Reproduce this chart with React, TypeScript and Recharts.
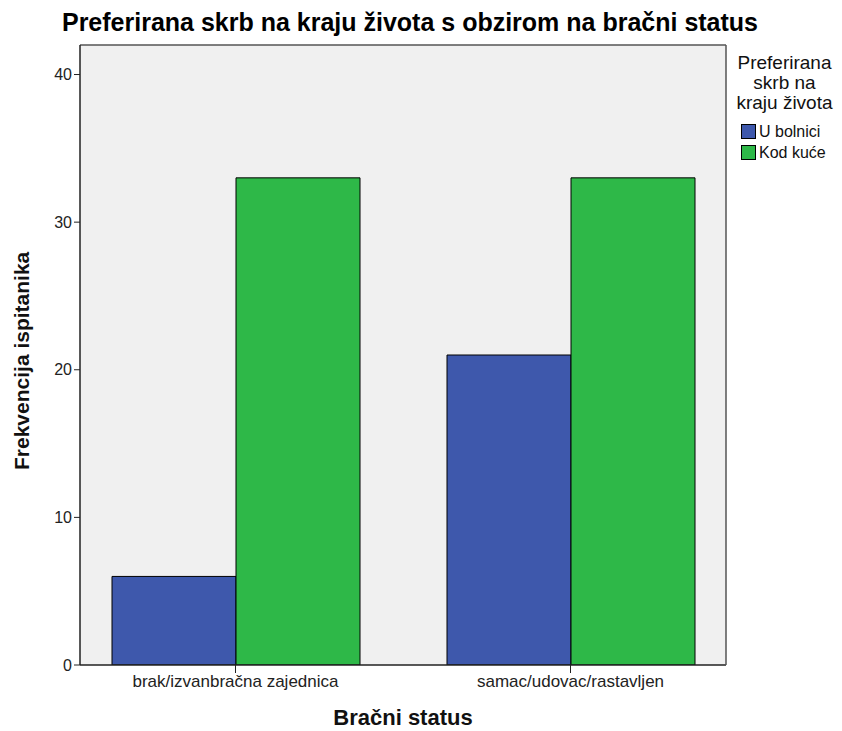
import React from "react";
import { BarChart, Bar, XAxis, YAxis, Legend, CartesianGrid } from "recharts";

const categories = ["brak/izvanbračna zajednica", "samac/udovac/rastavljen"];
const uBolnici = [6, 21];
const kodKuce = [33, 33];
const yTicks = [0, 10, 20, 30, 40];
const seriesNames = ["U bolnici", "Kod kuće"];
const seriesColors = ["#3E58AC", "#2EB848"];

const data = categories.map((c, i) => ({ cat: c, a: uBolnici[i], b: kodKuce[i] }));

const FONT = "Arial, 'Liberation Sans', sans-serif";

const LegendContent = () => (
  <div style={{ fontFamily: FONT, color: "#111" }}>
    <div style={{ textAlign: "center", fontSize: 19, lineHeight: "20px", width: 115 }}>
      Preferirana<br />skrb na<br />kraju života
    </div>
    <div style={{ marginTop: 8, marginLeft: 14 }}>
      {seriesNames.map((n, i) => (
        <div key={n} style={{ display: "flex", alignItems: "center", height: 21, fontSize: 16 }}>
          <span style={{ width: 13, height: 13, background: seriesColors[i], border: "1px solid #000", marginRight: 3, display: "inline-block" }} />
          {n}
        </div>
      ))}
    </div>
  </div>
);

export default function App() {
  return (
    <div style={{ position: "absolute", left: 0, top: 0, width: 842, height: 731, background: "#fff" }}>
      <div style={{ position: "absolute", left: 0, top: 8, width: 820, textAlign: "center", fontFamily: FONT, fontWeight: "bold", fontSize: 25, color: "#000" }}>
        Preferirana skrb na kraju života s obzirom na bračni status
      </div>
      <BarChart
        width={842}
        height={731}
        data={data}
        margin={{ top: 44, right: 0, bottom: 16, left: 30 }}
        barGap={0}
        barSize={124}
      >
        <CartesianGrid fill="#F0F0F0" horizontal={false} vertical={false} />
        <XAxis
          dataKey="cat"
          height={50}
          padding={{ left: -12, right: -12 }}
          axisLine={{ stroke: "#222", strokeWidth: 1.5 }}
          tickLine={{ stroke: "#222" }}
          tickSize={8}
          tick={{ fill: "#222", fontSize: 17, fontFamily: FONT }}
          label={{ value: "Bračni status", position: "insideBottom", offset: -10, style: { fontWeight: "bold", fontSize: 22, fill: "#111", fontFamily: FONT } }}
        />
        <XAxis xAxisId="top" dataKey="cat" orientation="top" height={1} tick={false} tickLine={false} axisLine={{ stroke: "#555", strokeWidth: 1.5 }} />
        <YAxis
          width={50}
          domain={[0, 42]}
          ticks={yTicks}
          allowDataOverflow
          axisLine={{ stroke: "#222", strokeWidth: 1.5 }}
          tickLine={{ stroke: "#222" }}
          tickSize={6}
          tick={{ fill: "#222", fontSize: 16, fontFamily: FONT }}
          label={{ value: "Frekvencija ispitanika", angle: -90, position: "insideLeft", offset: -8, dy: 115, style: { fontWeight: "bold", fontSize: 21, fill: "#111", fontFamily: FONT } }}
        />
        <YAxis yAxisId="right" orientation="right" width={1} domain={[0, 42]} tick={false} tickLine={false} axisLine={{ stroke: "#555", strokeWidth: 1.5 }} />
        <Legend
          layout="vertical"
          align="right"
          verticalAlign="top"
          content={<LegendContent />}
          wrapperStyle={{ position: "absolute", left: 727, top: 53, width: 115 }}
        />
        <Bar dataKey="a" name={seriesNames[0]} fill={seriesColors[0]} stroke="#000" strokeWidth={1} isAnimationActive={false} />
        <Bar dataKey="b" name={seriesNames[1]} fill={seriesColors[1]} stroke="#000" strokeWidth={1} isAnimationActive={false} />
      </BarChart>
    </div>
  );
}
